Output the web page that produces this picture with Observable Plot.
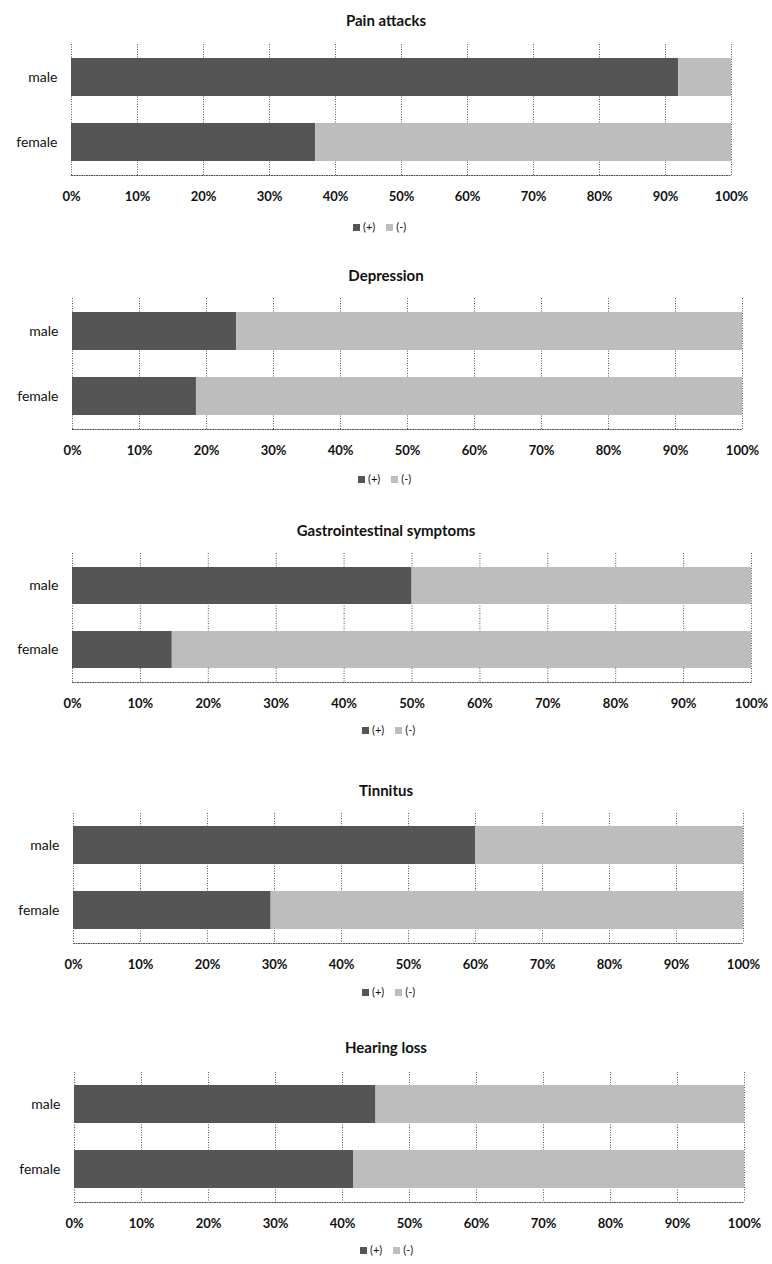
<!DOCTYPE html>
<html>
<head>
<meta charset="utf-8">
<script src="https://cdn.jsdelivr.net/npm/d3@7"></script>
<script src="https://cdn.jsdelivr.net/npm/@observablehq/plot@0.6"></script>
<style>
  html, body { margin: 0; padding: 0; background: #fff; }
  body { width: 772px; height: 1264px; position: relative; overflow: hidden; font-family: Lato, "Open Sans", sans-serif; color: #111; }
  .ptitle { position: absolute; left: 0; width: 772px; text-align: center; font-weight: bold; font-size: 15px; line-height: 18px; color: #111; }
  .legend { position: absolute; display: flex; align-items: center; font-size: 11px; line-height: 12px; color: #111; }
  .sw { display: inline-block; width: 7px; height: 7px; margin-right: 3px; }
  .item { display: inline-flex; align-items: center; margin-right: 11px; }
  .chart { position: absolute; left: 0; }
</style>
</head>
<body>
<script>
// ---- data ----
const titles = ["Pain attacks", "Depression", "Gastrointestinal symptoms", "Tinnitus", "Hearing loss"];
const categories = ["male", "female"];
const seriesNames = ["(+)", "(-)"];
const malePositive = [92, 24.5, 50, 60, 45];
const femalePositive = [37, 18.5, 14.7, 29.5, 41.7];
const xTicks = [0, 10, 20, 30, 40, 50, 60, 70, 80, 90, 100];
const tickLabels = ["0%", "10%", "20%", "30%", "40%", "50%", "60%", "70%", "80%", "90%", "100%"];

// ---- layout (page positions of each panel) ----
const layout = [
  {title: 11, left: 71, right: 731, top: 44, bottom: 175, legend: 221, legendX: 353},
  {title: 266, left: 72, right: 742, top: 298, bottom: 429, legend: 473, legendX: 358},
  {title: 521, left: 72, right: 751, top: 553, bottom: 682, legend: 724, legendX: 362},
  {title: 781, left: 73, right: 743, top: 813, bottom: 943, legend: 986, legendX: 362},
  {title: 1038, left: 74, right: 744, top: 1072, bottom: 1202, legend: 1244, legendX: 360}
];
const colors = ["#555555", "#bdbdbd"];
const gridColor = "#555";

titles.forEach((title, k) => {
  const L = layout[k];
  const rows = [];
  categories.forEach((c, ci) => {
    const pos = ci === 0 ? malePositive[k] : femalePositive[k];
    rows.push({sex: c, type: seriesNames[0], value: pos});
    rows.push({sex: c, type: seriesNames[1], value: 100 - pos});
  });

  const mT = 10, mB = 40;
  const h = (L.bottom - L.top) + mT + mB;

  const t = document.createElement("div");
  t.className = "ptitle";
  t.style.top = L.title + "px";
  t.textContent = title;
  document.body.appendChild(t);

  const chart = Plot.plot({
    width: 772,
    height: h,
    marginLeft: L.left,
    marginRight: 772 - L.right,
    marginTop: mT,
    marginBottom: mB,
    style: {fontFamily: "Lato, 'Open Sans', sans-serif", fontSize: "13px", color: "#111", background: "transparent", overflow: "visible"},
    x: {domain: [0, 100], axis: null, label: null},
    y: {domain: categories, paddingInner: 0.415, paddingOuter: 0.2, axis: null, label: null},
    color: {domain: seriesNames, range: colors},
    marks: [
      Plot.ruleX(xTicks, {stroke: gridColor, strokeWidth: 1, strokeDasharray: "1,1.5"}),
      Plot.barX(rows, Plot.stackX({x: "value", y: "sex", fill: "type", order: seriesNames})),
      Plot.frame({anchor: "bottom", stroke: gridColor, strokeDasharray: "1,1.5"}),
      Plot.axisX(xTicks, {tickSize: 0, tickPadding: 16, label: null, tickFormat: d => tickLabels[xTicks.indexOf(d)], fontWeight: "bold", fontSize: 13}),
      Plot.axisY({tickSize: 0, tickPadding: 14, label: null, fontSize: 14})
    ]
  });
  chart.classList.add("chart");
  chart.style.top = (L.top - mT) + "px";
  document.body.appendChild(chart);

  const lg = document.createElement("div");
  lg.className = "legend";
  lg.style.top = L.legend + "px";
  lg.style.left = L.legendX + "px";
  seriesNames.forEach((s, i) => {
    const it = document.createElement("span");
    it.className = "item";
    const sw = document.createElement("span");
    sw.className = "sw";
    sw.style.background = colors[i];
    it.appendChild(sw);
    it.appendChild(document.createTextNode(s));
    lg.appendChild(it);
  });
  document.body.appendChild(lg);
});
</script>
</body>
</html>
